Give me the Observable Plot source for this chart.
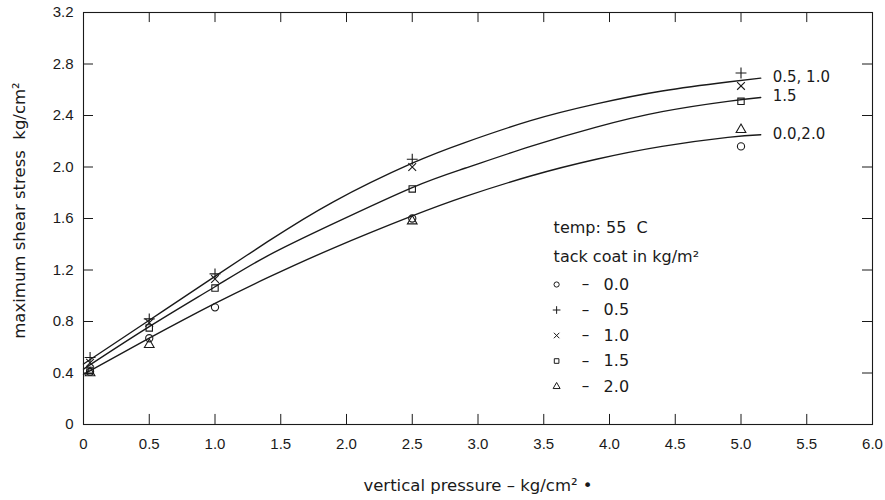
<!DOCTYPE html>
<html>
<head>
<meta charset="utf-8">
<script src="https://cdn.jsdelivr.net/npm/d3@7"></script>
<script src="https://cdn.jsdelivr.net/npm/@observablehq/plot@0.6"></script>
<style>
  html, body { margin: 0; padding: 0; background: #fff; }
  #chart svg { display: block; }
  g[aria-label="x-title"] text { letter-spacing: 1.8px; }
  g[aria-label="y-title"] text { letter-spacing: 1.4px; }
  g[aria-label="legend-text"] text { letter-spacing: 1px; }
</style>
</head>
<body>
<div id="chart"></div>
<script>
// ---- data ----
const pressure = [0.05, 0.5, 1.0, 2.5, 5.0];
const tackCoats = ["0.0", "0.5", "1.0", "1.5", "2.0"];
const tackSymbols = ["circle", "plus", "times", "square", "triangle"];
const stress00 = [0.41, 0.67, 0.91, 1.60, 2.16];
const stress05 = [0.52, 0.82, 1.17, 2.06, 2.73];
const stress10 = [0.48, 0.79, 1.13, 2.00, 2.63];
const stress15 = [0.42, 0.75, 1.06, 1.83, 2.51];
const stress20 = [0.40, 0.62, null, 1.58, 2.29];

// fitted curves as drawn in the figure
const curveX   = [0, 0.5, 1.0, 1.4, 1.9, 2.5, 2.9, 3.4, 3.9, 4.4, 4.9, 5.15];
const curveTop = [0.47, 0.81, 1.15, 1.42, 1.73, 2.03, 2.19, 2.36, 2.49, 2.59, 2.66, 2.69];
const curveMid = [0.43, 0.76, 1.07, 1.31, 1.56, 1.84, 1.99, 2.16, 2.31, 2.43, 2.51, 2.54];
const curveBot = [0.39, 0.67, 0.94, 1.14, 1.37, 1.62, 1.77, 1.93, 2.06, 2.16, 2.23, 2.25];
const curveNames = ["0.5, 1.0", "1.5", "0.0,2.0"];

const xTicks = [0, 0.5, 1.0, 1.5, 2.0, 2.5, 3.0, 3.5, 4.0, 4.5, 5.0, 5.5, 6.0];
const yTicks = [0, 0.4, 0.8, 1.2, 1.6, 2.0, 2.4, 2.8, 3.2];
const xTitle = "vertical pressure – kg/cm² •";
const yTitle = "maximum shear stress  kg/cm²";

const legendTitle1 = "temp: 55  C";
const legendTitle2 = "tack coat in kg/m²";
// legend anchor in data units (top-left of legend block)
const legendX = 3.575;
const legendY = 1.53;

// ---- build tables ----
const seriesVals = [stress00, stress05, stress10, stress15, stress20];
const points = [];
seriesVals.forEach((vals, i) => {
  vals.forEach((v, j) => { if (v != null) points.push({x: pressure[j], y: v, symbol: tackSymbols[i]}); });
});
const curves = [];
[curveTop, curveMid, curveBot].forEach((vals, i) => {
  vals.forEach((v, j) => curves.push({x: curveX[j], y: v, name: curveNames[i]}));
});
const curveEnds = [curveTop, curveMid, curveBot].map((vals, i) => ({
  x: curveX[curveX.length - 1], y: vals[vals.length - 1], name: curveNames[i]
}));

const xMin = 0, xMax = 6, yMin = 0, yMax = 3.2;
const tickLenY = 10 / 128.1; // inward tick length expressed in y units
const tickLenX = 10 / 131.5; // inward tick length expressed in x units

const ink = "#1a1a1a";
const sans = "DejaVu Sans, sans-serif";
const lib = "Liberation Sans, Arial, sans-serif";

const legendMarks = [];
const rowStep = 25.5;
tackCoats.forEach((t, i) => {
  const dy = 57 + i * rowStep;
  legendMarks.push(
    Plot.dot([0], {x: () => legendX, y: () => legendY, dx: 3, dy, symbol: tackSymbols[i], r: 2.6, stroke: ink, strokeWidth: 1, fill: "none"}),
    Plot.text(["–"], {x: () => legendX, y: () => legendY, dx: 32, dy, fontFamily: sans, fontSize: 15, fill: ink, textAnchor: "middle"}),
    Plot.text([t], {x: () => legendX, y: () => legendY, dx: 50, dy, fontFamily: sans, fontSize: 16, fill: ink, textAnchor: "start", ariaLabel: "legend-text"})
  );
});

const chart = Plot.plot({
  width: 885,
  height: 500,
  marginLeft: 83,
  marginRight: 13,
  marginTop: 12,
  marginBottom: 76,
  style: {fontFamily: lib, fontSize: "15px", color: ink, background: "#fff"},
  x: {domain: [xMin, xMax], label: null},
  y: {domain: [yMin, yMax], label: null},
  marks: [
    Plot.frame({stroke: ink, strokeWidth: 1.1}),
    // inward ticks on all four sides
    Plot.ruleX(xTicks, {x: d => d, y1: yMin, y2: yMin + tickLenY, stroke: ink, strokeWidth: 1}),
    Plot.ruleX(xTicks, {x: d => d, y1: yMax - tickLenY, y2: yMax, stroke: ink, strokeWidth: 1}),
    Plot.ruleY(yTicks, {y: d => d, x1: xMin, x2: xMin + tickLenX, stroke: ink, strokeWidth: 1}),
    Plot.ruleY(yTicks, {y: d => d, x1: xMax - tickLenX, x2: xMax, stroke: ink, strokeWidth: 1}),
    // tick labels
    Plot.axisX(xTicks, {anchor: "bottom", tickSize: 0, tickPadding: 14, tickFormat: d => d === 0 ? "0" : d.toFixed(1), fontSize: 15, label: null}),
    Plot.axisY(yTicks, {anchor: "left", tickSize: 0, tickPadding: 10, tickFormat: d => d === 0 ? "0" : d.toFixed(1), fontSize: 15, label: null}),
    // axis titles
    Plot.text([xTitle], {frameAnchor: "bottom", dy: 66, fontFamily: sans, fontSize: 16.5, fill: ink, textAnchor: "middle", ariaLabel: "x-title"}),
    Plot.text([yTitle], {frameAnchor: "left", dx: -64, dy: -8, rotate: -90, fontFamily: sans, fontSize: 16.5, fill: ink, textAnchor: "middle", ariaLabel: "y-title"}),
    // curves and data
    Plot.line(curves, {x: "x", y: "y", z: "name", curve: "natural", stroke: ink, strokeWidth: 1.4}),
    Plot.dot(points, {x: "x", y: "y", symbol: "symbol", r: 3.6, stroke: ink, strokeWidth: 1.1, fill: "none"}),
    Plot.text(curveEnds, {x: "x", y: "y", text: "name", dx: 12, dy: -1, textAnchor: "start", fontFamily: sans, fontSize: 15, fill: ink, ariaLabel: "legend-text"}),
    // legend block
    Plot.text([legendTitle1], {x: () => legendX, y: () => legendY, textAnchor: "start", fontFamily: sans, fontSize: 16, fill: ink, ariaLabel: "legend-text"}),
    Plot.text([legendTitle2], {x: () => legendX, y: () => legendY, dy: 29, textAnchor: "start", fontFamily: sans, fontSize: 16, fill: ink, ariaLabel: "legend-text"}),
    ...legendMarks
  ]
});

document.getElementById("chart").appendChild(chart);
</script>
</body>
</html>
